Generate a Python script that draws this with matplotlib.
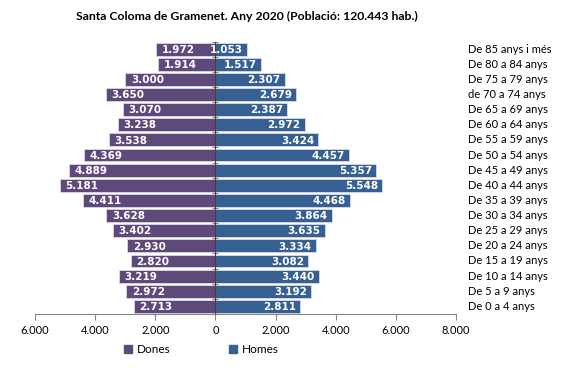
import matplotlib
matplotlib.use("Agg")
import matplotlib.pyplot as plt
from matplotlib.patches import Patch
import numpy as np

# age groups, top to bottom as in the chart
groups = ["De 85 anys i més", "De 80 a 84 anys", "De 75 a 79 anys", "de 70 a 74 anys",
          "De 65 a 69 anys", "De 60 a 64 anys", "De 55 a 59 anys", "De 50 a 54 anys",
          "De 45 a 49 anys", "De 40 a 44 anys", "De 35 a 39 anys", "De 30 a 34 anys",
          "De 25 a 29 anys", "De 20 a 24 anys", "De 15 a 19 anys", "De 10 a 14 anys",
          "De 5 a 9 anys", "De 0 a 4 anys"]
dones = [1972, 1914, 3000, 3650, 3070, 3238, 3538, 4369, 4889, 5181,
         4411, 3628, 3402, 2930, 2820, 3219, 2972, 2713]
homes = [1053, 1517, 2307, 2679, 2387, 2972, 3424, 4457, 5357, 5548,
         4468, 3864, 3635, 3334, 3082, 3440, 3192, 2811]
xticks = [-6000, -4000, -2000, 0, 2000, 4000, 6000, 8000]

purple = "#5f497a"
blue = "#376092"

def fmt(v):
    return "{:,}".format(abs(int(v))).replace(",", ".")

fig = plt.figure(figsize=(5.67, 3.68), dpi=100)
ax = fig.add_axes([0.062, 0.147, 0.742, 0.74])

y = np.arange(len(groups))[::-1]
ax.barh(y, [-d for d in dones], height=0.85, color=purple, edgecolor="#d9d9e6", linewidth=0.6)
ax.barh(y, homes, height=0.85, color=blue, edgecolor="#d9d9e6", linewidth=0.6)

for yi, d, h in zip(y, dones, homes):
    ax.annotate(fmt(d), (-d, yi), xytext=(4, -0.5), textcoords="offset points",
                ha="left", va="center", color="white", fontweight="bold",
                fontsize=7.5, family="DejaVu Sans")
    ax.annotate(fmt(h), (h, yi), xytext=(-3, -0.5), textcoords="offset points",
                ha="right", va="center", color="white", fontweight="bold",
                fontsize=7.5, family="DejaVu Sans")

for yi, g in zip(y, groups):
    ax.text(8400, yi, g, ha="left", va="center", fontsize=8, family="Lato",
            clip_on=False)

ax.set_xlim(-6000, 8000)
ax.set_ylim(-0.5, len(groups) - 0.5)
ax.set_xticks(xticks)
ax.set_xticklabels([fmt(t) for t in xticks], fontsize=8, family="Lato")
ax.tick_params(axis="x", direction="out", length=4, color="#868686", pad=4)
ax.set_yticks(np.arange(len(groups) + 1) - 0.5)
ax.set_yticklabels([])
ax.tick_params(axis="y", direction="inout", length=4, color="#868686")

for s in ["top", "right"]:
    ax.spines[s].set_visible(False)
ax.spines["left"].set_position(("data", 0))
ax.spines["left"].set_color("#404040")
ax.spines["bottom"].set_color("#868686")
ax.set_zorder(1)

fig.suptitle("Santa Coloma de Gramenet. Any 2020 (Població: 120.443 hab.)",
             x=0.436, y=0.97, fontsize=8.8, fontweight="bold", family="Lato")

handles = [Patch(color=purple, label="Dones"), Patch(color=blue, label="Homes")]
leg = fig.legend(handles=handles, loc="center", bbox_to_anchor=(0.355, 0.05), ncol=2,
                 frameon=False, handlelength=0.7, handleheight=0.7, handletextpad=0.4,
                 columnspacing=5.0, prop={"family": "Lato", "size": 8.5})

fig.savefig("out.png", dpi=100)
